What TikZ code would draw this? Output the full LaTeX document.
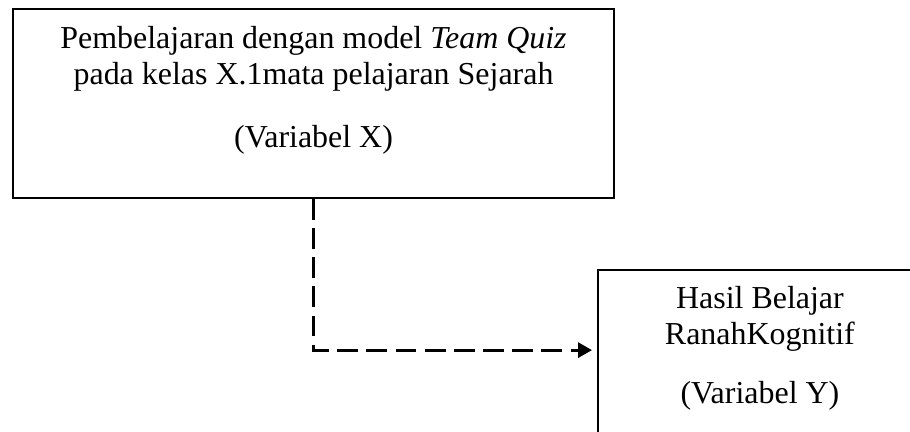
\documentclass[tikz,border=0pt]{standalone}
\usepackage{fontspec}
\setmainfont{Liberation Serif}
\usepackage{tikz}
\usetikzlibrary{arrows.meta}

\begin{document}
\begin{tikzpicture}[
    x=0.36pt, y=-0.36pt,
    varbox/.style={rectangle, draw, line width=0.7pt, anchor=north west, inner sep=0pt},
    vartext/.style={align=center, anchor=north, inner sep=0pt, text=black, font=\fontsize{11.5}{12.8}\selectfont},
    link/.style={dash pattern=on 7.5pt off 3pt, line width=1pt, shorten >=1.8pt, -{Triangle[length=5pt,width=5.4pt]}},
    ]
      \useasboundingbox (0,0) rectangle (910,432);
      % kotak variabel X
      \node [varbox, minimum width=216.4pt, minimum height=68pt] (xbox) at (12,8) {};
      \node [vartext] (xtext) at ([yshift=-6.5pt]xbox.north)
        {Pembelajaran dengan model \textit{Team Quiz}\\ pada kelas X.1mata pelajaran Sejarah\\[10pt] (Variabel X)};
      % kotak variabel Y
      \node [varbox, minimum width=116.6pt, minimum height=65.5pt] (ybox) at (597,269) {};
      \node [vartext] (ytext) at ([yshift=-6.1pt]ybox.north)
        {Hasil Belajar\\ RanahKognitif\\[8.4pt] (Variabel Y)};
      \coordinate (yin) at ([yshift=-29.2pt]ybox.north west);
      \draw [link] (xbox.south) |- (yin);
  \end{tikzpicture}
\end{document}
